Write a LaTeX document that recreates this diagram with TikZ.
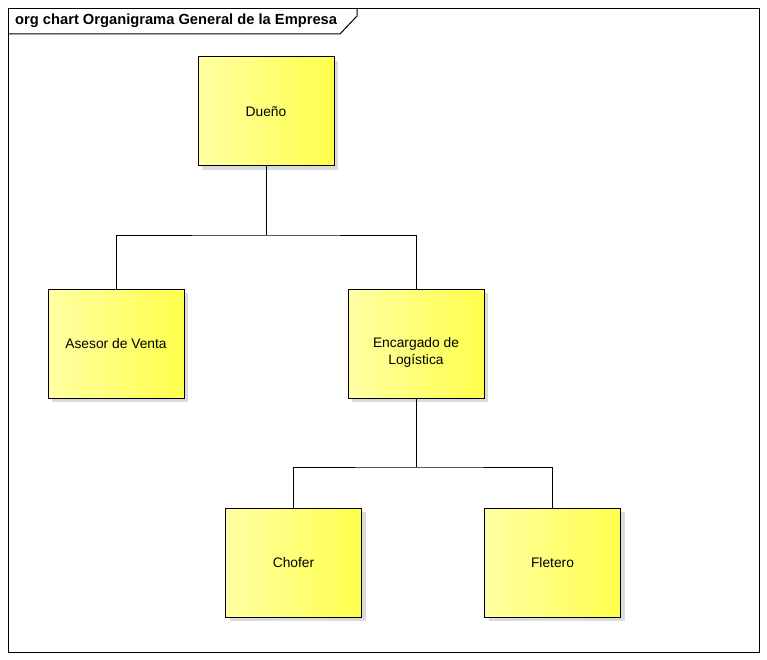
\documentclass[tikz,border=0pt]{standalone}
\usepackage{fontspec}
\setmainfont{Liberation Sans}
\begin{document}
\begin{tikzpicture}[x=1pt,y=-1pt,
  boxfont/.style={font=\fontsize{13.8}{17}\selectfont,text=black},
  orgbox/.style={draw=black,line width=1pt,rectangle,minimum width=136pt,minimum height=109pt,
    left color=yellow!36,right color=yellow!70,align=center,inner sep=0pt,boxfont},
  conn/.style={draw=black,line width=1pt},
  boxshadow/.style={fill=black!14,draw=none}]
\useasboundingbox (0,0) rectangle (767,660);
% frame
\draw[line width=1pt] (8.5,8.5) rectangle (759,652.5);
\draw[line width=1pt] (8.5,34) -- (340,34) -- (357,16) -- (357,8.5);
\node[anchor=west,font=\fontsize{14.7}{17}\selectfont\bfseries,inner sep=0pt] (title) at (15,21) {org chart Organigrama General de la Empresa};
% shadows
\foreach \cx/\cy in {266/111.5,116/343.5,416/343.5,293.5/562.5,552.5/562.5}{
  \fill[boxshadow] (\cx-68+4,\cy-54.5+4) rectangle (\cx+68+4,\cy+54.5+4);
}
% boxes
\node[orgbox] (duenio) at (266,111.5) {Dueño};
\node[orgbox] (asesor) at (116,343.5) {Asesor de Venta};
\node[orgbox,label={[boxfont,align=center,inner sep=0pt,yshift=-9pt]center:Encargado de\\Logística}] (encargado) at (416,343.5) {};
\node[orgbox] (chofer) at (293.5,562.5) {Chofer};
\node[orgbox] (fletero) at (552.5,562.5) {Fletero};
% connectors
\coordinate (j1) at (266,235);
\coordinate (j2) at (416,467);
\draw[conn] (duenio.south) -- (j1);
\draw[conn] (asesor.north) |- (j1) -| (encargado.north);
\draw[conn] (encargado.south) -- (j2);
\draw[conn] (chofer.north) |- (j2) -| (fletero.north);
\end{tikzpicture}
\end{document}
